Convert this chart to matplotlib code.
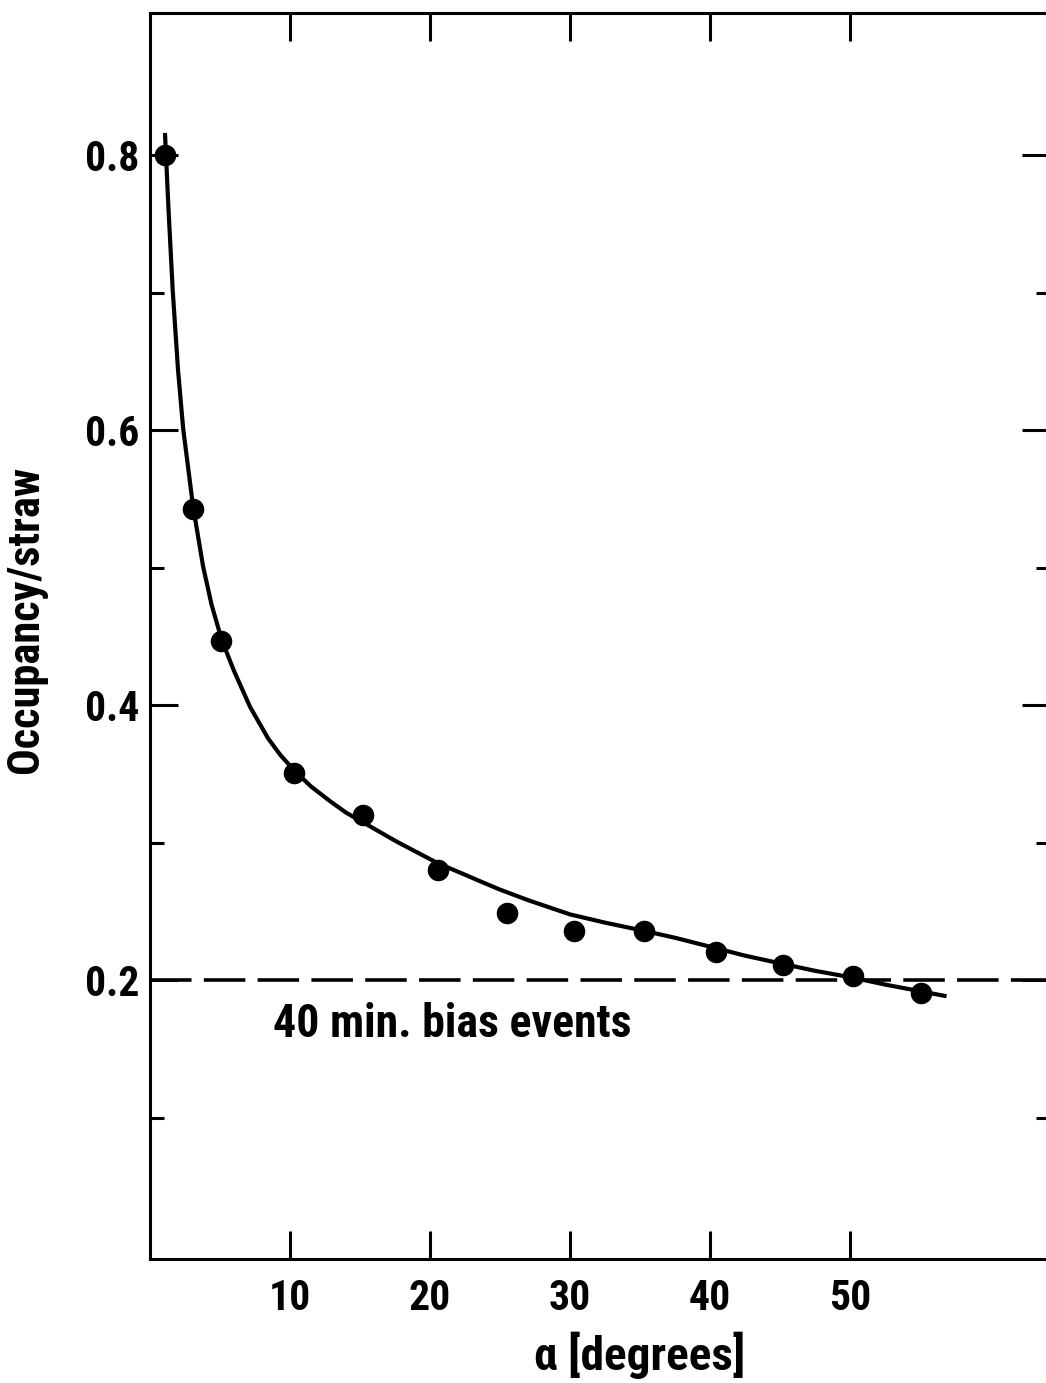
import matplotlib as mpl
mpl.use('agg')
import matplotlib.pyplot as plt
from matplotlib.ticker import FixedLocator

alpha_pts = [1.1, 3.1, 5.1, 10.3, 15.2, 20.6, 25.5, 30.3, 35.3, 40.4, 45.2, 50.2, 55.1]
occ_pts = [0.800, 0.543, 0.447, 0.351, 0.320, 0.280, 0.249, 0.236, 0.236, 0.221, 0.211, 0.203, 0.191]

# drawn curve, sampled along the line in the scan
alpha_fit = [1.07, 1.3, 1.62, 2.0, 2.37, 3.07, 3.79, 4.4, 5.14, 6.0, 7.14, 8.43, 9.3, 10.36,
             11.5, 12.9, 14.0, 15.2, 17.6, 19.0, 20.6, 22.0, 23.6, 25.0, 27.1, 30.0,
             32.5, 35.3, 37.5, 40.4, 42.5, 45.2, 47.5, 50.2, 52.5, 55.1, 56.9]
occ_fit = [0.816, 0.765, 0.702, 0.644, 0.601, 0.545, 0.501, 0.473, 0.447, 0.425, 0.399, 0.376, 0.364, 0.352,
           0.341, 0.330, 0.322, 0.315, 0.301, 0.2935, 0.285, 0.279, 0.272, 0.266, 0.258, 0.248,
           0.242, 0.236, 0.231, 0.2235, 0.218, 0.212, 0.207, 0.202, 0.197, 0.192, 0.1885]

bias_level = 0.2
bias_label = '40 min. bias events'

x_major = [10, 20, 30, 40, 50]
y_major = [0.2, 0.4, 0.6, 0.8]
y_minor = [0.1, 0.3, 0.5, 0.7]

mpl.rcParams['font.family'] = ['Roboto Condensed', 'Roboto', 'DejaVu Sans']
mpl.rcParams['font.weight'] = 'bold'
mpl.rcParams['axes.labelweight'] = 'bold'

W, H = 1046, 1383
fig = plt.figure(figsize=(W / 100.0, H / 100.0), dpi=100)
ax = fig.add_axes([150.0 / W, 1 - 1259.0 / H, 900.0 / W, 1246.0 / H])

ax.plot(alpha_fit, occ_fit, color='black', lw=3.0, solid_capstyle='butt',
        solid_joinstyle='round', zorder=3)
ax.plot(alpha_pts, occ_pts, 'o', color='black', ms=14.5, zorder=4)
ax.axhline(bias_level, color='black', lw=2.6, dashes=(11.5, 3.4), zorder=2)
ax.text(8.8, 0.168, bias_label, fontsize=33, va='center', ha='left')

ax.set_xlim(0, 64.29)
ax.set_ylim(-0.0025, 0.9032)

ax.xaxis.set_major_locator(FixedLocator(x_major))
ax.yaxis.set_major_locator(FixedLocator(y_major))
ax.yaxis.set_minor_locator(FixedLocator(y_minor))
ax.set_xticklabels([str(v) for v in x_major])
ax.set_yticklabels(['%.1f' % v for v in y_major])

ax.tick_params(which='both', direction='in', top=True, right=True, width=2.2,
               labelsize=30, color='black')
ax.tick_params(which='major', length=20)
ax.tick_params(which='minor', length=10)
ax.tick_params(axis='x', pad=14)
ax.tick_params(axis='y', pad=8)

for s in ax.spines.values():
    s.set_linewidth(2.2)

ax.set_xlabel(u'\u03b1 [degrees]', fontsize=34, va='center')
ax.xaxis.set_label_coords(0.544, -0.077)
ax.set_ylabel('Occupancy/straw', fontsize=32, va='center')
ax.yaxis.set_label_coords(-0.138, 0.513)

plt.savefig('out.png', dpi=100)
